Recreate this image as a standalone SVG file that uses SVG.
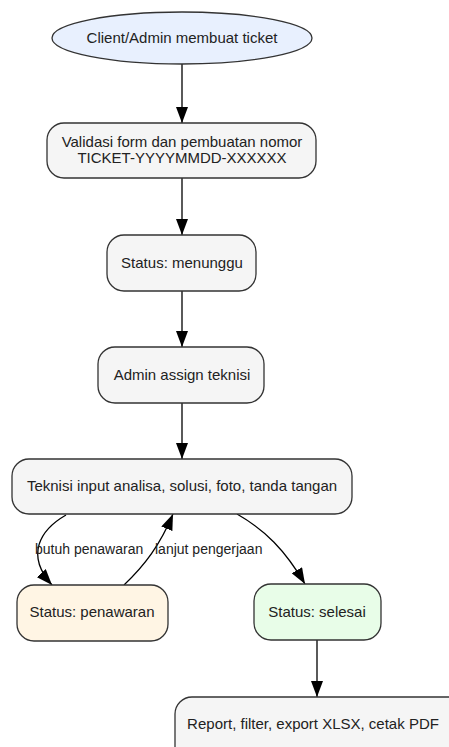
<svg xmlns="http://www.w3.org/2000/svg" width="449" height="747" viewBox="0 0 449 747">
<defs>
<style>
.n{stroke:#333;stroke-width:1.3}
.g{fill:#f5f5f5}
.t{font-family:"Liberation Sans",Arial,sans-serif;font-size:15px;fill:#222;text-anchor:middle}
.l{font-family:"Liberation Sans",Arial,sans-serif;font-size:14px;fill:#222}
.e{fill:none;stroke:#000;stroke-width:1.3}
</style>
<marker id="ah" markerWidth="16" markerHeight="12" refX="16" refY="6" orient="auto" markerUnits="userSpaceOnUse">
<path d="M0,0 L16,6 L0,12 Z" fill="#000"/>
</marker>
</defs>
<rect width="449" height="747" fill="#fff"/>
<g id="edges">
<path class="e" d="M182,64 L182,123" marker-end="url(#ah)"/>
<path class="e" d="M182,178 L182,235" marker-end="url(#ah)"/>
<path class="e" d="M182,291 L182,347" marker-end="url(#ah)"/>
<path class="e" d="M182,403 L182,459" marker-end="url(#ah)"/>
<path class="e" d="M66,515 C40,530 25,555 52,585" marker-end="url(#ah)"/>
<path class="e" d="M124,585 C145,565 160,545 173,514" marker-end="url(#ah)"/>
<path class="e" d="M237,514 C265,530 285,550 305,584" marker-end="url(#ah)"/>
<path class="e" d="M317,640 L317,697" marker-end="url(#ah)"/>
<text class="l" x="35" y="554">butuh penawaran</text>
<text class="l" x="155" y="554">lanjut pengerjaan</text>
</g>
<g id="n1"><ellipse class="n" cx="182" cy="38" rx="130" ry="26" fill="#e8f0fe"/><text class="t" x="182" y="43">Client/Admin membuat ticket</text></g>
<g id="n2"><rect class="n g" x="47" y="123" width="269" height="55" rx="17"/><text class="t" x="182" y="147">Validasi form dan pembuatan nomor</text><text class="t" x="182" y="163">TICKET-YYYYMMDD-XXXXXX</text></g>
<g id="n3"><rect class="n g" x="107" y="235" width="149" height="56" rx="17"/><text class="t" x="182" y="268">Status: menunggu</text></g>
<g id="n4"><rect class="n g" x="98" y="347" width="166" height="56" rx="17"/><text class="t" x="182" y="380">Admin assign teknisi</text></g>
<g id="n5"><rect class="n g" x="12" y="459" width="340" height="55" rx="17"/><text class="t" x="182" y="491">Teknisi input analisa, solusi, foto, tanda tangan</text></g>
<g id="n6"><rect class="n" x="17" y="585" width="151" height="56" rx="17" fill="#fff5e4"/><text class="t" x="92" y="617">Status: penawaran</text></g>
<g id="n7"><rect class="n" x="254" y="584" width="127" height="56" rx="17" fill="#e8fde8"/><text class="t" x="317" y="617">Status: selesai</text></g>
<g id="n8"><rect class="n g" x="175" y="697" width="290" height="70" rx="17"/><text class="t" x="313" y="729">Report, filter, export XLSX, cetak PDF</text></g>
</svg>
